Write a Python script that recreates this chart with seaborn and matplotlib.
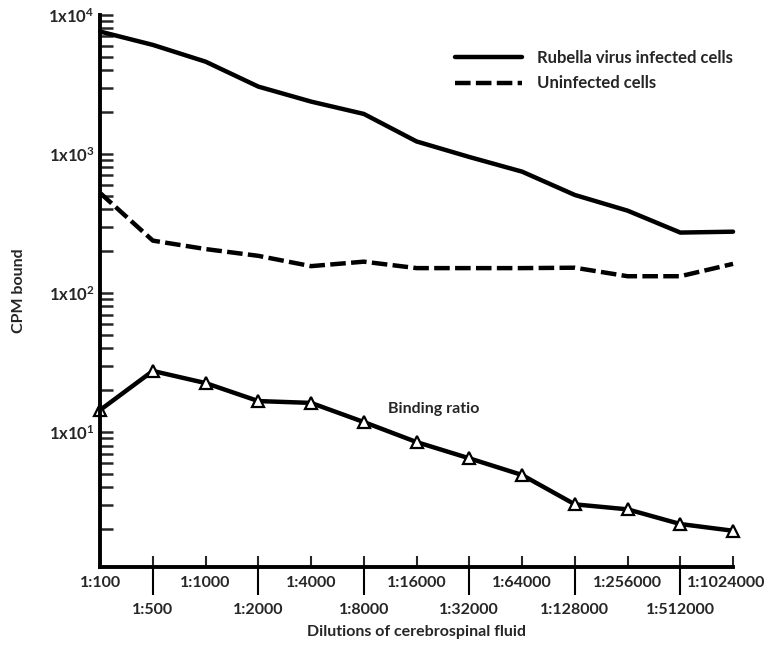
import numpy as np
import pandas as pd
import matplotlib
matplotlib.use("Agg")
import matplotlib.pyplot as plt
import matplotlib.ticker as mticker
import matplotlib.transforms as mtransforms
import seaborn as sns

# dilution steps on the x axis
dilutions = ["1:100", "1:500", "1:1000", "1:2000", "1:4000", "1:8000", "1:16000",
             "1:32000", "1:64000", "1:128000", "1:256000", "1:512000", "1:1024000"]

# CPM bound
infected = [7590, 6085, 4610, 3050, 2380, 1940, 1230, 951, 746, 507, 391, 272, 276]
uninfected = [524, 238, 207, 185, 156, 168, 151, 151, 151, 152, 132, 132, 162]
binding_ratio = [14.4, 27.5, 22.5, 16.7, 16.2, 11.8, 8.47, 6.47, 4.91, 3.02, 2.78, 2.18, 1.95]

ytick_vals = [10, 100, 1000, 10000]
ytick_labels = ["1x10$^{1}$", "1x10$^{2}$", "1x10$^{3}$", "1x10$^{4}$"]

sns.set_style("white")
plt.rcParams['font.family'] = ['Lato', 'DejaVu Sans']
plt.rcParams['font.weight'] = 'bold'
plt.rcParams['mathtext.fontset'] = 'custom'
plt.rcParams['mathtext.rm'] = 'Lato:bold'
plt.rcParams['mathtext.default'] = 'rm'

df = pd.DataFrame({'dilution': dilutions, 'infected': infected,
                   'uninfected': uninfected, 'ratio': binding_ratio})

fig = plt.figure(figsize=(7.7, 6.48), dpi=100)
ax = fig.add_axes([0.130, 0.125, 0.822, 0.852])

sns.lineplot(data=df, x='dilution', y='infected', ax=ax, color='black', lw=3.2,
             sort=False, label='Rubella virus infected cells', clip_on=False)
sns.lineplot(data=df, x='dilution', y='uninfected', ax=ax, color='black', lw=3.2,
             sort=False, label='Uninfected cells', clip_on=False,
             linestyle=(0, (3.5, 1.2)))
sns.lineplot(data=df, x='dilution', y='ratio', ax=ax, color='black', lw=3.2,
             sort=False, marker='^', markersize=8, markerfacecolor='white',
             markeredgecolor='black', markeredgewidth=1.6, clip_on=False, legend=False)

ax.set_yscale('log')
ax.set_ylim(1.07, 10000)
ax.set_xlim(0, len(dilutions) - 1)

ax.yaxis.set_major_locator(mticker.FixedLocator(ytick_vals))
ax.yaxis.set_major_formatter(mticker.FixedFormatter(ytick_labels))
ax.yaxis.set_minor_locator(mticker.LogLocator(base=10, subs=np.arange(2, 10)))
ax.yaxis.set_minor_formatter(mticker.NullFormatter())
ax.tick_params(axis='y', which='both', direction='in', length=9, width=1.8,
               left=True, labelsize=12, pad=4)

ax.set_xticks(range(len(dilutions)))
ax.set_xticklabels(dilutions, fontsize=11.5, fontweight='bold')
ax.tick_params(axis='x', which='major', direction='in', length=8, width=1.5, bottom=True)
for i, tick in enumerate(ax.xaxis.get_major_ticks()):
    tick.set_pad(6.5 if i % 2 == 0 else 26)

# last label sits a little left so it stays inside the figure
last = ax.get_xticklabels()[-1]
last.set_transform(last.get_transform() + mtransforms.ScaledTranslation(-7 / 100, 0, fig.dpi_scale_trans))

# longer ticks through the axis at every other dilution
odd_pos = [i for i in range(len(dilutions)) if i % 2 == 1]
ax.vlines(odd_pos, 0, -0.051, transform=ax.get_xaxis_transform(), clip_on=False,
          color='black', lw=1.5)

for s in ['top', 'right']:
    ax.spines[s].set_visible(False)
for s in ['left', 'bottom']:
    ax.spines[s].set_linewidth(2.8)
    ax.spines[s].set_color('black')

ax.set_xlabel('Dilutions of cerebrospinal fluid', fontsize=11.5, fontweight='bold', labelpad=6)
ax.set_ylabel('CPM bound', fontsize=11.5, fontweight='bold', labelpad=16)

ax.text(6.33, 14.6, 'Binding ratio', fontsize=11.5, fontweight='bold',
        ha='center', va='center')

leg = ax.legend(loc='upper right', bbox_to_anchor=(1.0, 0.936), frameon=False,
                fontsize=12, handlelength=4.0, handletextpad=0.9,
                labelspacing=0.55, borderaxespad=0, borderpad=0)
for t in leg.get_texts():
    t.set_fontweight('bold')

fig.savefig('out.png', dpi=100)
